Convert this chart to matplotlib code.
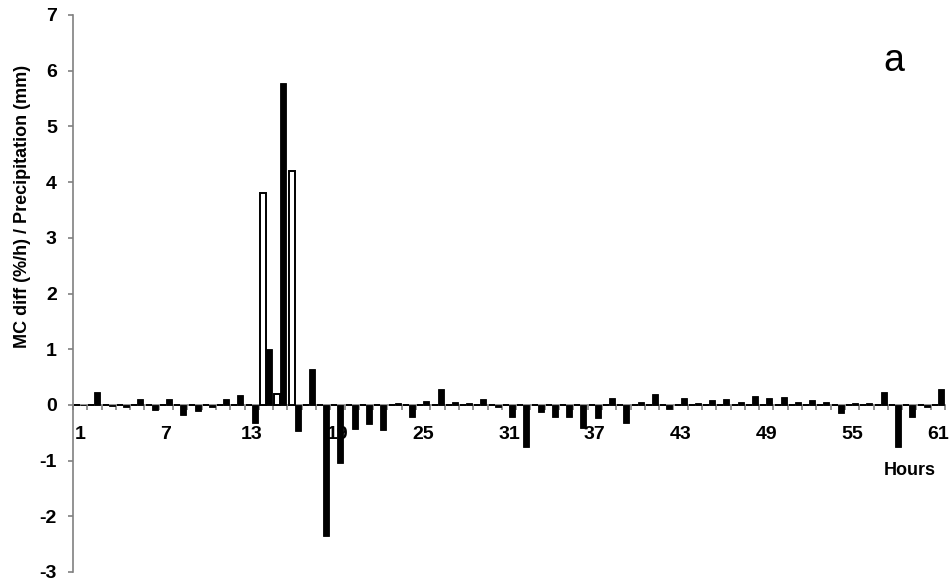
import matplotlib
matplotlib.use("Agg")
import matplotlib.pyplot as plt
import numpy as np

plt.rcParams['font.family'] = ['Liberation Sans', 'DejaVu Sans']

hours = list(range(1, 62))

# moisture content change per hour (%/h)
mc_diff = [
    0.00, 0.23, -0.02, -0.04, 0.11, -0.10, 0.11, -0.18, -0.11, -0.04,
    0.11, 0.18, -0.33, 1.00, 5.78, -0.46, 0.64, -2.36, -1.04, -0.43,
    -0.35, -0.45, 0.04, -0.21, 0.07, 0.28, 0.05, 0.03, 0.11, -0.04,
    -0.22, -0.76, -0.13, -0.21, -0.22, -0.42, -0.23, 0.13, -0.33, 0.06,
    0.20, -0.08, 0.13, 0.04, 0.09, 0.10, 0.06, 0.16, 0.13, 0.15,
    0.05, 0.09, 0.05, -0.15, 0.04, 0.04, 0.23, -0.75, -0.22, -0.04,
    0.28,
]

# hourly precipitation (mm)
precip_hours = [14, 15, 16]
precip_vals = [3.8, 0.2, 4.2]
precipitation = [0.0] * len(hours)
for h, v in zip(precip_hours, precip_vals):
    precipitation[h - 1] = v

label_hours = [1, 7, 13, 19, 25, 31, 37, 43, 49, 55, 61]
y_ticks = list(range(-3, 8))

fig = plt.figure(figsize=(9.49, 5.85), dpi=100)
ax = fig.add_axes([73 / 949, 1 - 572 / 585, 872 / 949, 557 / 585])

x = np.array(hours, dtype=float)
w = 0.42
ax.bar(x - w / 2, precipitation, width=w, color='white', edgecolor='black',
       linewidth=1.4, zorder=3)
ax.bar(x + w / 2, mc_diff, width=w, color='black', edgecolor='black',
       linewidth=0.6, zorder=3)

ax.set_xlim(0.5, 61.5)
ax.set_ylim(-3, 7)

axis_col = '#808080'
for side in ['top', 'right']:
    ax.spines[side].set_visible(False)
ax.spines['bottom'].set_position(('data', 0))
ax.spines['bottom'].set_color(axis_col)
ax.spines['left'].set_color(axis_col)
ax.spines['bottom'].set_linewidth(1.2)
ax.spines['left'].set_linewidth(1.2)

# ticks at category boundaries, labels centred on categories
ax.set_xticks(np.arange(0.5, 62.0, 1.0))
ax.set_xticklabels([])
ax.tick_params(axis='x', which='major', direction='out', length=3.6,
               color=axis_col, width=1.2)
ax.set_xticks(label_hours, minor=True)
ax.set_xticklabels([str(h) for h in label_hours], minor=True,
                   fontsize=14, fontweight='bold')
ax.tick_params(axis='x', which='minor', length=0, pad=15)

ax.set_yticks(y_ticks)
ax.set_yticklabels([str(v) for v in y_ticks], fontsize=14, fontweight='bold')
ax.tick_params(axis='y', direction='out', length=3.6, color=axis_col,
               width=1.2, pad=8)

ax.set_ylabel('MC diff (%/h) / Precipitation (mm)', fontsize=13,
              fontweight='bold')
ax.yaxis.set_label_coords(-0.048, 0.657)

ax.text(0.96, 0.183, 'Hours', transform=ax.transAxes, fontsize=13,
        fontweight='bold', ha='center', va='center')
ax.text(0.9415, 0.917, 'a', transform=ax.transAxes, fontsize=27,
        ha='center', va='center')

ax.set_axisbelow(True)
fig.savefig('out.png', dpi=100)
